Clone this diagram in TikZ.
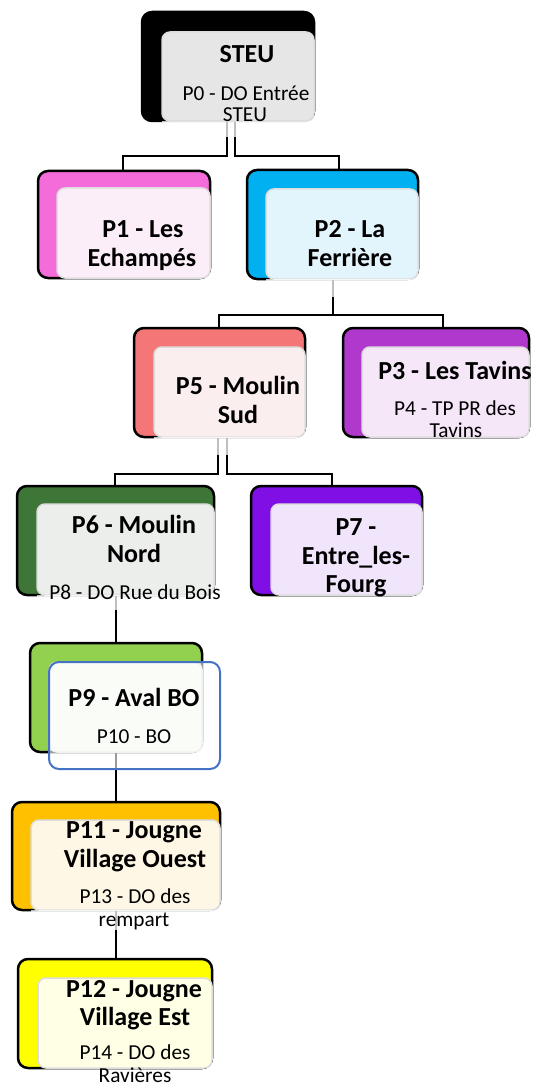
\documentclass[tikz,border=0pt]{standalone}
\usepackage{fontspec}
\setmainfont{Carlito}
\usetikzlibrary{calc}
\definecolor{steuin}{HTML}{E6E6E6}
\definecolor{pAo}{HTML}{F46CD9}\definecolor{pAi}{HTML}{FCEEF9}
\definecolor{pBo}{HTML}{00B0F0}\definecolor{pBi}{HTML}{E2F4FC}
\definecolor{pEo}{HTML}{F47676}\definecolor{pEi}{HTML}{FBEEEE}
\definecolor{pCo}{HTML}{B038CC}\definecolor{pCi}{HTML}{F5E7F8}
\definecolor{pFo}{HTML}{3E7637}\definecolor{pFi}{HTML}{EBEEEA}
\definecolor{pGo}{HTML}{800FE6}\definecolor{pGi}{HTML}{F1E5FC}
\definecolor{pHo}{HTML}{92D050}\definecolor{pHi}{HTML}{F3F9EE}
\definecolor{pKo}{HTML}{FFC000}\definecolor{pKi}{HTML}{FFF7E5}
\definecolor{pLo}{HTML}{FFFF00}\definecolor{pLi}{HTML}{FFFFE5}
\definecolor{bluebd}{HTML}{4472C4}
\definecolor{innerbd}{HTML}{DDDDDD}
\tikzset{
 outerbox/.style={draw=black, line width=2.5pt, rounded corners=10pt, anchor=north west, inner sep=0pt, outer sep=0pt},
 innerbox/.style={draw=innerbd, line width=1.5pt, rounded corners=8pt, anchor=south east, inner sep=0pt, outer sep=0pt},
 bluebox/.style={draw=bluebd, line width=2pt, rounded corners=10pt, anchor=north west, inner sep=0pt, outer sep=0pt, fill=white, fill opacity=0.6},
 conn/.style={draw=black, line width=2pt},
 veil/.style={fill=white, fill opacity=0.75},
 ttl/.style={font=\bfseries\fontsize{26}{29}\selectfont, anchor=base, inner sep=0pt},
 sub/.style={font=\fontsize{21.3}{24}\selectfont, anchor=base, inner sep=0pt},
}
\begin{document}
\begin{tikzpicture}[x=1pt,y=-1pt]
\useasboundingbox (0,0) rectangle (534,1086);
% coordinates for box placement
\coordinate (c0) at (142,12);
\coordinate (c1) at (38,171);
\coordinate (c2) at (247,170);
\coordinate (c5) at (134,328);
\coordinate (c3) at (343,328);
\coordinate (c6) at (17,486);
\coordinate (c7) at (251,486);
\coordinate (c9) at (30,643);
\coordinate (c11) at (12,802);
\coordinate (c12) at (18,959);
% invisible placeholders to get anchors for connectors first
\path (c0) node[outerbox, draw=none, minimum width=172pt, minimum height=109pt] (steuo) {};
\path (c1) node[outerbox, draw=none, minimum width=172pt, minimum height=107pt] (p1o) {};
\path (c2) node[outerbox, draw=none, minimum width=171pt, minimum height=109pt] (p2o) {};
\path (c5) node[outerbox, draw=none, minimum width=171pt, minimum height=109pt] (p5o) {};
\path (c3) node[outerbox, draw=none, minimum width=186pt, minimum height=109pt] (p3o) {};
\path (c6) node[outerbox, draw=none, minimum width=197pt, minimum height=109pt] (p6o) {};
\path (c7) node[outerbox, draw=none, minimum width=171pt, minimum height=109pt] (p7o) {};
\path (c9) node[outerbox, draw=none, minimum width=172pt, minimum height=109pt] (p9o) {};
\path (c11) node[outerbox, draw=none, minimum width=208pt, minimum height=108pt] (p11o) {};
\path (c12) node[outerbox, draw=none, minimum width=194pt, minimum height=109pt] (p12o) {};
% connectors
\draw[conn] ($(steuo.south)+(-1,0)$) -- ++(0,35) -| ($(p1o.north)+(-1,0)$);
\draw[conn] ($(steuo.south)+(7,0)$) -- ++(0,35) -| ($(p2o.north)+(6.5,0)$);
\draw[conn] (p2o.south) -- ++(0,36) -| ($(p5o.north)+(-0.5,0)$);
\draw[conn] (p2o.south) -- ++(0,36) -| ($(p3o.north)+(7,0)$);
\draw[conn] ($(p5o.south)+(-1.5,0)$) -- ++(0,37) -| ($(p6o.north)+(-0.5,0)$);
\draw[conn] ($(p5o.south)+(7.5,0)$) -- ++(0,37) -| ($(p7o.north)+(-4.5,0)$);
\draw[conn] (p9o.north) -- (p9o.north |- p6o.south);
\draw[conn] (p11o.north) -- (p11o.north |- p9o.south);
\draw[conn] (p11o.south) -- (p11o.south |- p12o.north);
% boxes
\node[outerbox, fill=black, minimum width=172pt, minimum height=109pt] (steuf) at (c0) {};
\node[innerbox, fill=steuin, minimum width=152pt, minimum height=89pt] (steui) at (steuf.south east) {};
\node[outerbox, fill=pAo, minimum width=172pt, minimum height=107pt] (p1f) at (c1) {};
\node[innerbox, fill=pAi, minimum width=153pt, minimum height=90pt] (p1i) at (p1f.south east) {};
\node[outerbox, fill=pBo, minimum width=171pt, minimum height=109pt] (p2f) at (c2) {};
\node[innerbox, fill=pBi, minimum width=152pt, minimum height=90pt] (p2i) at (p2f.south east) {};
\node[outerbox, fill=pEo, minimum width=171pt, minimum height=109pt] (p5f) at (c5) {};
\node[innerbox, fill=pEi, minimum width=151pt, minimum height=90pt] (p5i) at (p5f.south east) {};
\node[outerbox, fill=pCo, minimum width=186pt, minimum height=109pt] (p3f) at (c3) {};
\node[innerbox, fill=pCi, minimum width=167pt, minimum height=90pt] (p3i) at (p3f.south east) {};
\node[outerbox, fill=pFo, minimum width=197pt, minimum height=109pt] (p6f) at (c6) {};
\node[innerbox, fill=pFi, minimum width=177pt, minimum height=91pt] (p6i) at (p6f.south east) {};
\node[outerbox, fill=pGo, minimum width=171pt, minimum height=109pt] (p7f) at (c7) {};
\node[innerbox, fill=pGi, minimum width=151pt, minimum height=91pt] (p7i) at (p7f.south east) {};
\node[outerbox, fill=pHo, minimum width=172pt, minimum height=109pt] (p9f) at (c9) {};
\node[innerbox, fill=pHi, minimum width=153pt, minimum height=90pt] (p9i) at (p9f.south east) {};
\node[outerbox, fill=pKo, minimum width=208pt, minimum height=108pt] (p11f) at (c11) {};
\node[innerbox, fill=pKi, minimum width=189pt, minimum height=90pt] (p11i) at (p11f.south east) {};
\node[outerbox, fill=pLo, minimum width=194pt, minimum height=109pt] (p12f) at (c12) {};
\node[innerbox, fill=pLi, minimum width=174pt, minimum height=90pt] (p12i) at (p12f.south east) {};
\node[bluebox, minimum width=171pt, minimum height=107pt] (p10b) at (p9i.north west) {};
% veils where text areas overflow below the boxes
\fill[veil] (steui.south west) rectangle ++(152,16);
\fill[veil] (p2i.south west) rectangle ++(152,18);
\fill[veil] (p5i.south west) rectangle ++(151,18);
\fill[veil] (p6i.south west) rectangle ++(183,15);
\fill[veil] (p11i.south west) rectangle ++(189,20);
% texts
\node[ttl] (t0a) at (247,63) {STEU};
\node[sub] (t0b) at (246,101) {P0 - DO Entrée};
\node[sub] (t0c) at (245,122) {STEU};
\node[ttl] (t1a) at (143,237) {P1 - Les};
\node[ttl] (t1b) at (142,266) {Echampés};
\node[ttl] (t2a) at (350,237) {P2 - La};
\node[ttl] (t2b) at (350,266) {Ferrière};
\node[ttl] (t5a) at (238,394) {P5 - Moulin};
\node[ttl] (t5b) at (238,423) {Sud};
\node[ttl] (t3a) at (455,379) {P3 - Les Tavins};
\node[sub] (t3b) at (455,415) {P4 - TP PR des};
\node[sub] (t3c) at (456,437) {Tavins};
\node[ttl] (t6a) at (134,533) {P6 - Moulin};
\node[ttl] (t6b) at (134,562) {Nord};
\node[sub] (t6c) at (135,599) {P8 - DO Rue du Bois};
\node[ttl] (t7a) at (356,535) {P7 -};
\node[ttl] (t7b) at (356,564) {Entre\_les-};
\node[ttl] (t7c) at (356,592) {Fourg};
\node[ttl] (t9a) at (134,706) {P9 - Aval BO};
\node[sub] (t9b) at (134,743) {P10 - BO};
\node[ttl] (t11a) at (134,838) {P11 - Jougne};
\node[ttl] (t11b) at (135,867) {Village Ouest};
\node[sub] (t11c) at (135,903) {P13 - DO des};
\node[sub] (t11d) at (134,926) {rempart};
\node[ttl] (t12a) at (134,997) {P12 - Jougne};
\node[ttl] (t12b) at (135,1025) {Village Est};
\node[sub] (t12c) at (135,1059) {P14 - DO des};
\node[sub] (t12d) at (135,1082) {Ravières};
\end{tikzpicture}
\end{document}
